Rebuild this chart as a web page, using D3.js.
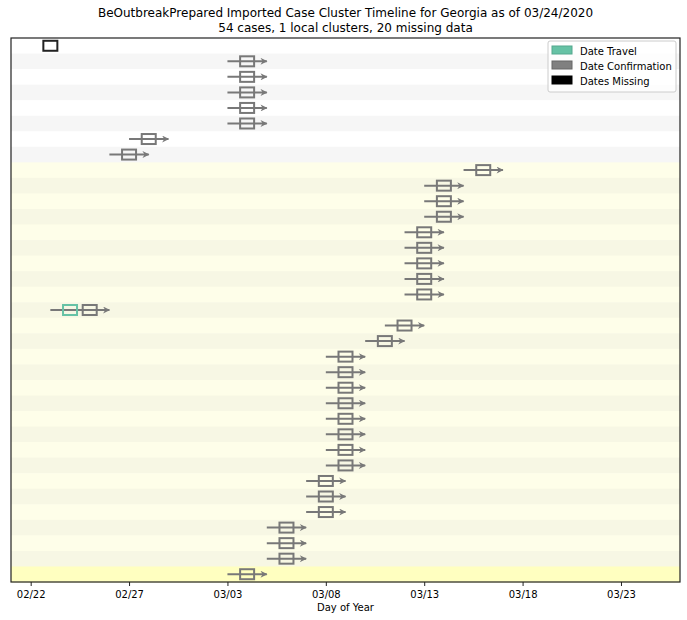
<!DOCTYPE html>
<html><head><meta charset="utf-8">
<script src="https://cdn.jsdelivr.net/npm/d3@7"></script>
<style>body{margin:0;background:#fff;} svg{display:block;font-family:"DejaVu Sans",sans-serif;}</style>
</head><body>
<script>
const titleLines = ["BeOutbreakPrepared Imported Case Cluster Timeline for Georgia as of 03/24/2020",
                    "54 cases, 1 local clusters, 20 missing data"];
const xLabel = "Day of Year";
const tickLabels = ["02/22","02/27","03/03","03/08","03/13","03/18","03/23"];
// one entry per row, top to bottom
const travelDates = [null,null,null,null,null,null,null,null,null,null,null,null,null,null,null,null,null,
  "02/24",null,null,null,null,null,null,null,null,null,null,null,null,null,null,null,null,null];
const confirmDates = ["02/23","03/04","03/04","03/04","03/04","03/04","02/28","02/27",
  "03/16","03/14","03/14","03/14","03/13","03/13","03/13","03/13","03/13",
  "02/25","03/12","03/11",
  "03/09","03/09","03/09","03/09","03/09","03/09","03/09","03/09",
  "03/08","03/08","03/08","03/06","03/06","03/06","03/04"];
const missingRows = [true].concat(Array(34).fill(false));
const clusterGroup = [0,0,0,0,0,0,0,0, 1,1,1,1,1,1,1,1,1,1,1,1,1,1,1,1,1,1,1,1,1,1,1,1,1,1, 2];
const legendItems = ["Date Travel","Date Confirmation","Dates Missing"];

const W=687,H=620;
const m={l:11,r:7,t:38,b:38};
const parse = s => new Date(2020, +s.slice(0,2)-1, +s.slice(3,5));
const svg=d3.select("body").append("svg").attr("width",W).attr("height",H);
const x=d3.scaleTime().domain([parse("02/21"),parse("03/26")]).range([m.l,W-m.r]);
const rows=d3.range(confirmDates.length);
const y=d3.scaleBand().domain(rows).range([m.t,H-m.b]);

const stripeColor=(i)=>{
  const g=clusterGroup[i];
  if(g===2) return "#ffffc0";
  if(g===0) return i%2? "#f6f6f6":"#ffffff";
  return i%2? "#f7f7e4":"#fefee9";
};
svg.append("g").selectAll("rect").data(rows).join("rect")
  .attr("x",m.l).attr("width",W-m.r-m.l).attr("y",i=>y(i)).attr("height",y.bandwidth()+0.5)
  .attr("fill",stripeColor);

const gray="#787878";
svg.append("defs").append("marker").attr("id","arr").attr("viewBox","0 0 10 10")
  .attr("refX",9).attr("refY",5).attr("markerWidth",10).attr("markerHeight",7)
  .attr("markerUnits","userSpaceOnUse").attr("orient","auto")
  .append("path").attr("d","M0,0 L10,5 L0,10 L3,5 Z").attr("fill",gray);

const day=864e5;
const g=svg.append("g");
rows.forEach(i=>{
  const cy=y(i)+y.bandwidth()/2;
  const c=parse(confirmDates[i]);
  if(missingRows[i]){
    g.append("rect").attr("x",x(c)-7).attr("y",cy-5).attr("width",14).attr("height",10)
      .attr("fill","none").attr("stroke","#222").attr("stroke-width",2);
    return;
  }
  const start = travelDates[i]? parse(travelDates[i]) : c;
  g.append("line").attr("x1",x(new Date(+start-day))).attr("x2",x(new Date(+c+day)))
    .attr("y1",cy).attr("y2",cy).attr("stroke",gray).attr("stroke-width",2).attr("marker-end","url(#arr)");
  if(travelDates[i]){
    const t=parse(travelDates[i]);
    g.append("rect").attr("x",x(t)-7).attr("y",cy-5).attr("width",14).attr("height",10)
      .attr("fill","none").attr("stroke","#66c2a5").attr("stroke-width",2);
  }
  g.append("rect").attr("x",x(c)-7).attr("y",cy-5).attr("width",14).attr("height",10)
    .attr("fill","none").attr("stroke",gray).attr("stroke-width",2);
});

// frame
svg.append("rect").attr("x",m.l).attr("y",m.t).attr("width",W-m.r-m.l).attr("height",H-m.b-m.t)
  .attr("fill","none").attr("stroke","#222").attr("stroke-width",1.2);

const ax=svg.append("g").attr("transform",`translate(0,${H-m.b})`)
  .call(d3.axisBottom(x).tickValues(tickLabels.map(parse)).tickFormat(d3.timeFormat("%m/%d")).tickSize(4).tickPadding(5));
ax.select(".domain").remove();
ax.selectAll("text").attr("font-size",10).attr("fill","#000").attr("font-family","DejaVu Sans");
ax.selectAll("line").attr("stroke","#222");

svg.append("text").attr("x",(m.l+W-m.r)/2).attr("y",611).attr("text-anchor","middle")
  .attr("font-size",10).text(xLabel);
titleLines.forEach((t,k)=>svg.append("text").attr("x",(m.l+W-m.r)/2).attr("y",17+k*15)
  .attr("text-anchor","middle").attr("font-size",12).text(t));

// legend
const lg=svg.append("g").attr("transform","translate(548,41)");
lg.append("rect").attr("width",128).attr("height",51).attr("rx",2).attr("fill","#fff")
  .attr("fill-opacity",0.8).attr("stroke","#ccc");
const lc=[{f:"#66c2a5",s:"#55a88e"},{f:"#808080",s:"#666"},{f:"#000",s:"#000"}];
legendItems.forEach((t,k)=>{
  lg.append("rect").attr("x",4).attr("y",5+k*15).attr("width",20).attr("height",8)
    .attr("fill",lc[k].f).attr("stroke",lc[k].s).attr("stroke-width",1);
  lg.append("text").attr("x",32).attr("y",13.5+k*15).attr("font-size",10).text(t);
});
</script>
</body></html>
